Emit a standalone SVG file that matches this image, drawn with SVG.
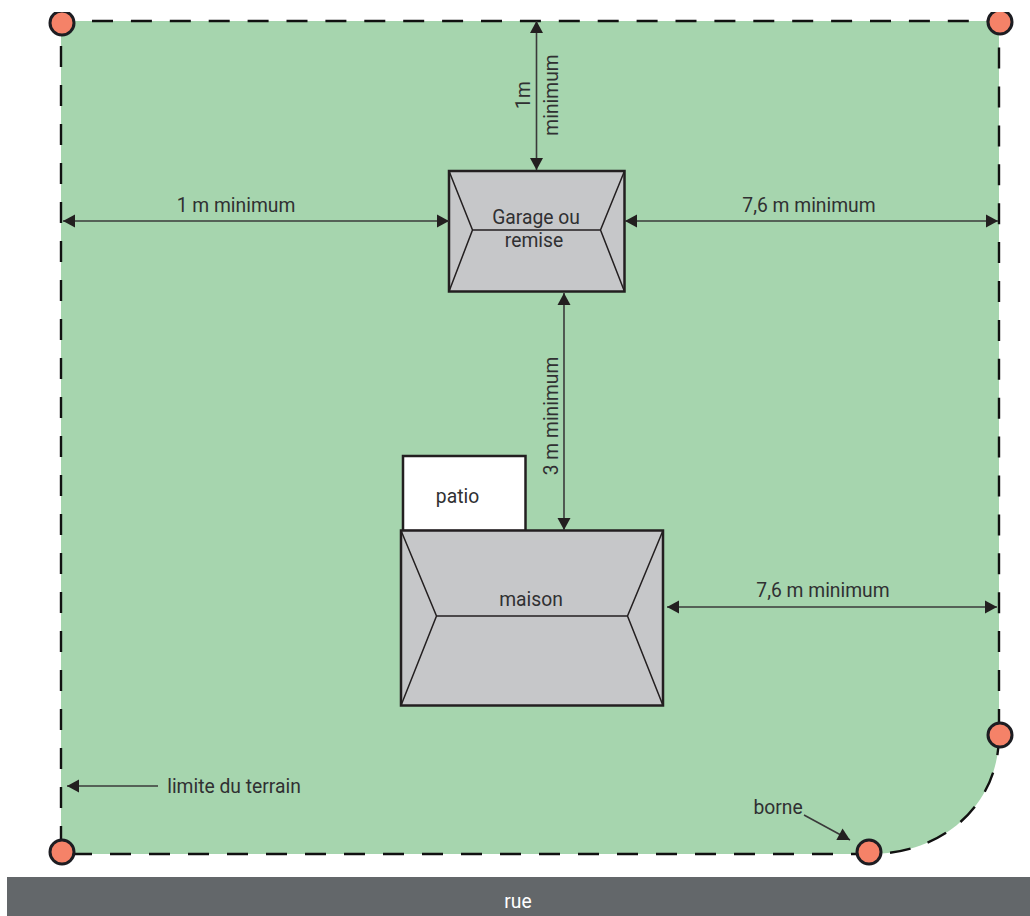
<svg xmlns="http://www.w3.org/2000/svg" width="1030" height="916" viewBox="0 0 1030 916">
<style>
text{font-family:Roboto,"Liberation Sans",sans-serif;font-size:19.300px;fill:#303032;text-anchor:middle}
.roof{fill:#c6c7c9;stroke:#231f20;stroke-width:2.500}
.ridge{fill:none;stroke:#231f20;stroke-width:1.500}
.dim{fill:none;stroke:#3a3a3a;stroke-width:1.600;marker-end:url(#a)}
.dim2{marker-start:url(#as)}
.post{fill:#f58268;stroke:#1d1d22;stroke-width:3}
.limit{fill:none;stroke:#111;stroke-width:2.400;stroke-dasharray:21 18}
</style>
<defs>
<marker id="a" markerUnits="userSpaceOnUse" markerWidth="14" markerHeight="14" refX="13" refY="7" orient="auto"><path d="M1,0.5L13,7L1,13.500Z" fill="#231f20"/></marker>
<marker id="as" markerUnits="userSpaceOnUse" markerWidth="14" markerHeight="14" refX="1" refY="7" orient="auto"><path d="M13,0.5L1,7L13,13.500Z" fill="#231f20"/></marker>
</defs>
<rect width="1030" height="916" fill="#fff"/>
<g id="terrain">
<path d="M61,21H999V735C999,803 945,854 870,854H61Z" fill="#a6d5ae"/>
<path class="limit" d="M92,21H999V735" style="stroke-dasharray:21 17.900"/>
<path class="limit" d="M71,854H870C945,854 999,803 999,735"/>
<path class="limit" d="M61,46V854"/>
</g>
<g id="rue"><rect x="7" y="877" width="1023" height="39" fill="#63676a"/><text x="518" y="908" style="fill:#fff">rue</text></g>
<g id="patio"><rect x="403" y="456" width="122.500" height="75" fill="#fff" stroke="#231f20" stroke-width="2.500"/><text x="457.500" y="503">patio</text></g>
<g id="garage"><rect x="449" y="171" width="175.500" height="120.500" class="roof"/><path class="ridge" d="M449,171L472.500,230L449,291.500M624.500,171L600.500,230L624.500,291.500M472.500,230H600.500"/><text x="536" y="224">Garage ou</text><text x="534" y="247">remise</text></g>
<g id="maison"><rect x="401" y="530.500" width="262" height="175" class="roof"/><path class="ridge" d="M401,530.500L436.500,616L401,705.500M663,530.500L627.500,616L663,705.500M436.500,616H627.500"/><text x="531" y="606">maison</text></g>
<g id="connectors">
<path class="dim dim2" d="M536.500,21V170"/>
<path class="dim dim2" d="M63,221H449"/>
<path class="dim dim2" d="M625,221H998"/>
<path class="dim dim2" d="M564,293V530"/>
<path class="dim dim2" d="M667,607H997"/>
<path class="dim" d="M158,786H67"/>
<path class="dim" d="M804,815L850,840"/>
</g>
<g id="labels">
<text transform="translate(530,95) rotate(-90)">1m</text>
<text transform="translate(558,95) rotate(-90)">minimum</text>
<text x="236" y="212">1 m minimum</text>
<text x="809" y="212">7,6 m minimum</text>
<text transform="translate(558,416) rotate(-90)">3 m minimum</text>
<text x="823" y="597">7,6 m minimum</text>
<text x="234" y="793">limite du terrain</text>
<text x="778" y="814">borne</text>
</g>
<g id="bornes">
<circle class="post" cx="62" cy="23" r="12"/>
<circle class="post" cx="1000" cy="22" r="12"/>
<circle class="post" cx="1000" cy="735" r="12"/>
<circle class="post" cx="62" cy="852" r="12"/>
<circle class="post" cx="869" cy="852" r="12"/>
</g>
<rect id="masque" width="1030" height="12" fill="#fff"/>
</svg>
